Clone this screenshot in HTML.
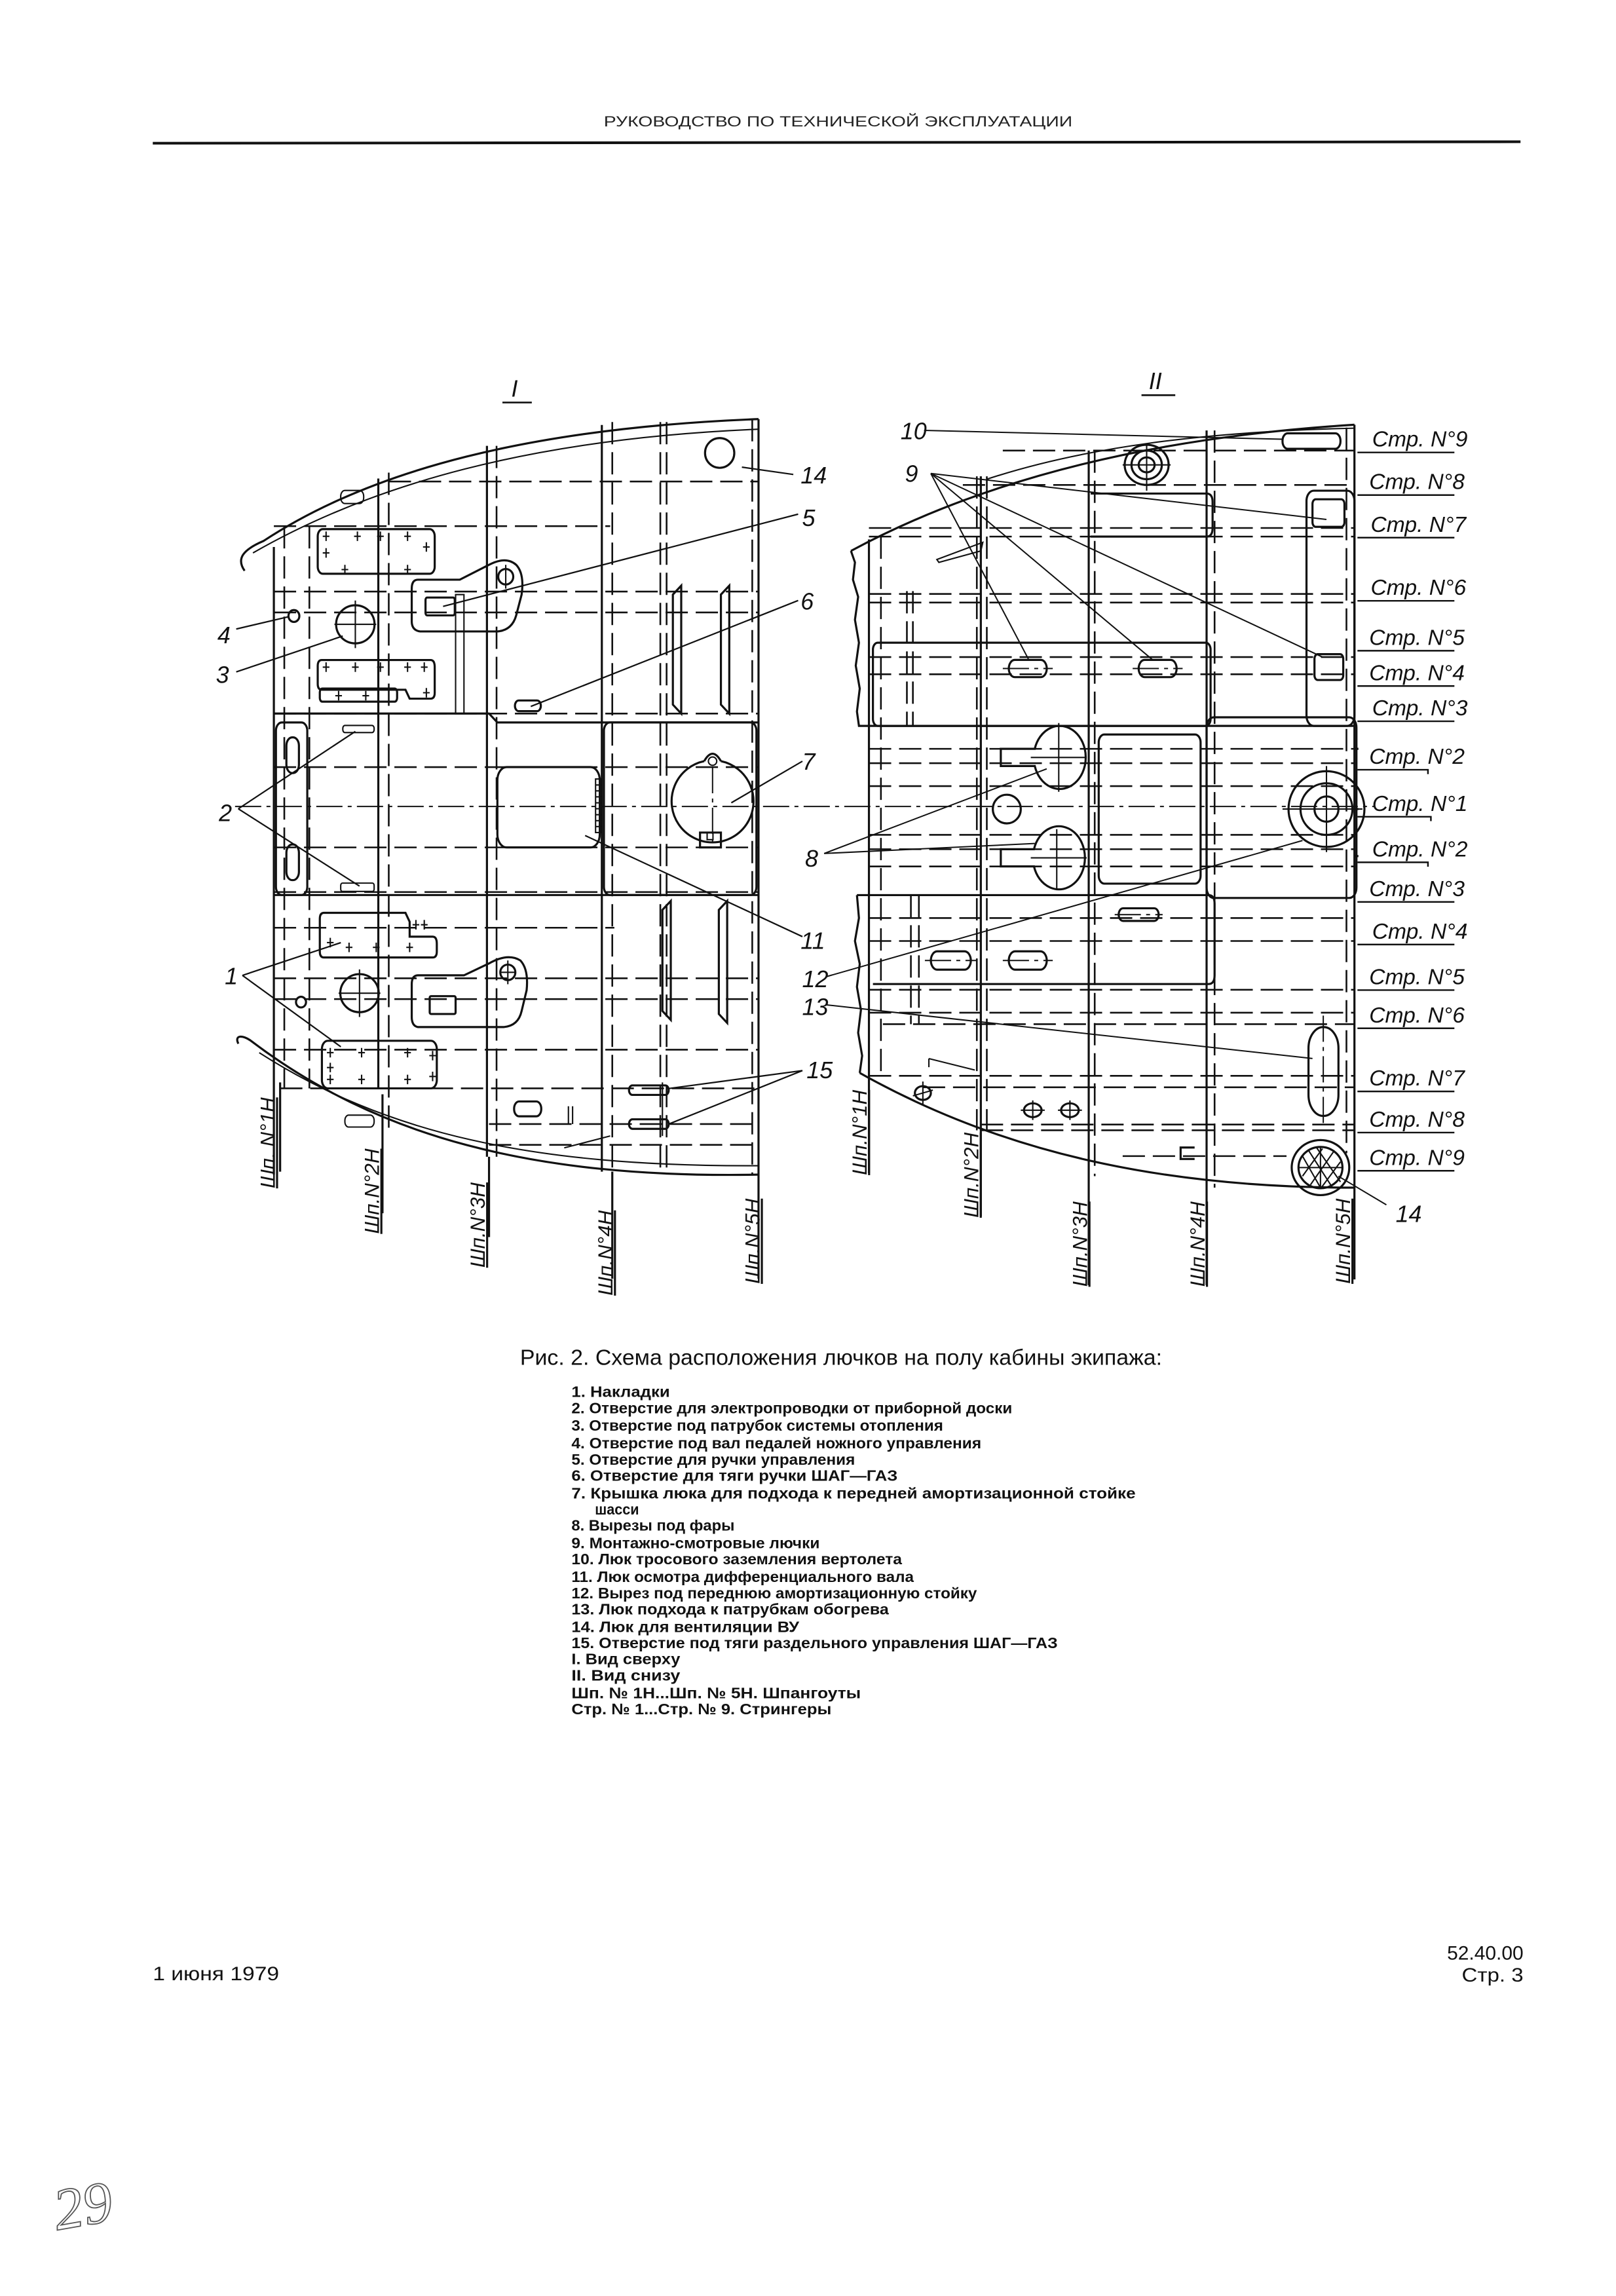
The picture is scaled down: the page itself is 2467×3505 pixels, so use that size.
<!DOCTYPE html>
<html><head><meta charset="utf-8"><style>
html,body{margin:0;padding:0;background:#fff}
svg{display:block}
.s{fill:none;stroke:#111;stroke-width:3.2;vector-effect:non-scaling-stroke}
.t{fill:none;stroke:#111;stroke-width:2.1;vector-effect:non-scaling-stroke}
.d{fill:none;stroke:#111;stroke-width:2.6;stroke-dasharray:34 12;vector-effect:non-scaling-stroke}
.dd{fill:none;stroke:#111;stroke-width:2;stroke-dasharray:40 8 6 8;vector-effect:non-scaling-stroke}
.lab{font-family:"Liberation Sans",sans-serif;font-style:italic;font-size:16px;fill:#111}
.stp{font-family:"Liberation Sans",sans-serif;font-style:italic;font-size:14px;fill:#111}
.lg{font-family:"Liberation Sans Narrow","Liberation Sans",sans-serif;font-size:10.5px;fill:#111;font-weight:bold}
</style></head><body>
<svg width="2467" height="3505" viewBox="0 0 1100 1563" preserveAspectRatio="none" xmlns="http://www.w3.org/2000/svg">
<rect width="1100" height="1563" fill="#fff"/>
<text x="411" y="86" font-family="Liberation Sans Narrow,Liberation Sans,sans-serif" font-size="10" textLength="319" lengthAdjust="spacingAndGlyphs" fill="#222">РУКОВОДСТВО ПО ТЕХНИЧЕСКОЙ ЭКСПЛУАТАЦИИ</text>
<line x1="104" y1="97.5" x2="1035" y2="96.5" stroke="#111" stroke-width="1.8"/>

<text class="lab" x="348" y="270">I</text><line x1="342" y1="274" x2="362" y2="274" stroke="#111" stroke-width="1.2"/>
<text class="lab" x="782" y="265">II</text><line x1="777" y1="269" x2="800" y2="269" stroke="#111" stroke-width="1.2"/>

<line x1="160" y1="549" x2="935" y2="549" class="dd"/>

<g transform="translate(133.8,238.7) scale(0.2844,0.405)">
<path class="s" d="M115,370 C95,350 110,335 160,320 C420,200 800,130 1345,115"/>
<path class="t" d="M135,340 C420,225 800,148 1345,132"/>
<path class="s" d="M100,1165 C90,1150 110,1150 130,1160 C430,1320 800,1392 1345,1385"/>
<path class="t" d="M150,1180 C450,1315 800,1372 1345,1370"/>
<rect class="t" x="345" y="235" width="55" height="22" rx="10"/>
<rect class="t" x="355" y="1285" width="70" height="20" rx="9"/>
<path class="s" d="M185,330V1385 M200,1230V1380 M435,215V1240 M445,1250V1450 M695,160V1355 M700,1355V1490 M970,125V1380 M995,1380V1560 M1345,115V1560"/>
<path class="d" d="M210,295V1240 M270,295V1240 M460,205V1310 M718,160V1355 M995,120V1380 M1110,120V1385 M1125,120V1385 M1330,115V1385"/>
<path class="d" d="M460,220H1345 M185,295H990 M185,405H1345 M185,440H1345 M185,610H1345 M185,700H1345 M185,835H1345 M185,910H1345 M185,970H1000 M185,1055H1345 M185,1090H1345 M185,1175H1345 M200,1240H1345 M700,1300H1345 M700,1335H1345"/>
<path class="s" d="M185,610H700 L720,625H1345 M185,915H1345"/>
<rect class="s" x="290" y="300" width="280" height="75" rx="12"/>
<path class="s" d="M300,520H560Q570,520 570,532V575Q570,585 560,585H510L500,570H300Q290,570 290,560V530Q290,520 300,520Z"/>
<rect class="s" x="295" y="568" width="185" height="22" rx="6"/>
<path class="s" d="M305,945H500L510,960V985H565Q575,985 575,997V1010Q575,1020 565,1020H305Q295,1020 295,1010V955Q295,945 305,945Z"/>
<rect class="s" x="300" y="1160" width="275" height="80" rx="14"/>
<path class="t" d="M302,312h16M310,304v16 M377,312h16M385,304v16 M432,312h16M440,304v16 M497,312h16M505,304v16 M542,330h16M550,322v16 M347,368h16M355,360v16 M497,368h16M505,360v16 M302,340h16M310,332v16
M302,532h16M310,524v16 M372,532h16M380,524v16 M432,532h16M440,524v16 M497,532h16M505,524v16 M537,532h16M545,524v16 M542,575h16M550,567v16 M332,580h16M340,572v16 M397,580h16M405,572v16
M312,995h16M320,987v16 M357,1003h16M365,995v16 M422,1003h16M430,995v16 M502,1003h16M510,995v16 M537,965h16M545,957v16 M517,965h16M525,957v16
M312,1180h16M320,1172v16 M387,1180h16M395,1172v16 M497,1180h16M505,1172v16 M557,1185h16M565,1177v16 M312,1205h16M320,1197v16 M312,1225h16M320,1217v16 M387,1225h16M395,1217v16 M497,1225h16M505,1217v16 M557,1220h16M565,1212v16"/>
<rect class="s" x="190" y="625" width="75" height="290" rx="14"/>
<rect class="s" x="215" y="650" width="30" height="60" rx="14"/>
<rect class="s" x="215" y="830" width="30" height="60" rx="14"/>
<rect class="t" x="350" y="630" width="75" height="12" rx="5"/>
<rect class="t" x="345" y="895" width="80" height="14" rx="4"/>
<ellipse class="s" cx="380" cy="460" rx="46" ry="32"/><path class="t" d="M380,420V500 M330,460H430"/>
<ellipse class="s" cx="233" cy="446" rx="13" ry="10"/>
<ellipse class="s" cx="390" cy="1080" rx="46" ry="32"/><path class="t" d="M390,1040V1120 M340,1080H440"/>
<ellipse class="s" cx="250" cy="1095" rx="12" ry="9"/>
<ellipse class="s" cx="1252" cy="172" rx="35" ry="25"/>
<path class="s" d="M530,385H630L700,360Q740,345 765,360Q785,375 778,410L765,445Q755,470 720,472H535Q515,470 515,455V400Q515,385 530,385Z"/>
<ellipse class="s" cx="740" cy="380" rx="18" ry="13"/><path class="t" d="M740,360V400"/>
<rect class="s" x="548" y="415" width="70" height="30" rx="4"/>
<rect class="t" x="620" y="410" width="20" height="200"/>
<path class="s" d="M530,1050H640L700,1030Q745,1012 775,1025Q795,1040 790,1075L778,1110Q770,1135 735,1137H530Q515,1135 515,1120V1065Q515,1050 530,1050Z"/>
<ellipse class="s" cx="745" cy="1045" rx="18" ry="13"/><path class="t" d="M745,1025V1065 M725,1045H765"/>
<rect class="s" x="558" y="1085" width="62" height="30" rx="3"/>
<rect class="s" x="762" y="588" width="62" height="18" rx="9"/>
<rect class="s" x="720" y="700" width="245" height="135" rx="22"/>
<rect class="t" x="955" y="720" width="14" height="90"/>
<path class="t" d="M955,730h14M955,740h14M955,750h14M955,760h14M955,770h14M955,780h14M955,790h14M955,800h14"/>
<rect class="s" x="975" y="625" width="365" height="290" rx="14"/>
<path class="s" d="M1215,690 A98,69 0 1,0 1255,690"/>
<path class="s" d="M1215,690 Q1235,665 1255,690"/>
<ellipse class="t" cx="1235" cy="690" rx="10" ry="7"/>
<rect class="s" x="1205" y="810" width="50" height="25"/><rect class="t" x="1222" y="810" width="14" height="12"/>
<path class="dd" d="M1235,700V830"/>
<path class="s" d="M1140,410L1160,395V610L1140,595Z M1255,410L1275,395V610L1255,595Z M1115,940L1135,925V1125L1115,1110Z M1250,940L1270,925V1130L1250,1115Z"/>
<rect class="s" x="760" y="1262" width="65" height="25" rx="12"/>
<rect class="s" x="1035" y="1235" width="95" height="16" rx="8"/>
<rect class="s" x="1035" y="1292" width="95" height="16" rx="8"/>
<path class="t" d="M1115,1230V1320 M890,1270V1300 M900,1270V1300 M880,1340L990,1320"/>
</g>

<g stroke="#111" stroke-width="1" fill="none">
<line x1="505" y1="318" x2="540" y2="323"/>
<line x1="301.6" y1="412.8" x2="543.3" y2="350"/>
<line x1="361.3" y1="480.9" x2="543.3" y2="408.8"/>
<line x1="497.8" y1="546.5" x2="546.2" y2="518.2"/>
<line x1="398.3" y1="568.8" x2="546.2" y2="637.6"/>
<line x1="160.8" y1="428.2" x2="197" y2="419.7"/>
<line x1="160.8" y1="457.4" x2="233.3" y2="433"/>
<line x1="162.2" y1="550.6" x2="241.9" y2="497.9"/>
<line x1="162.2" y1="550.6" x2="244.7" y2="603.2"/>
<line x1="165" y1="664" x2="232" y2="641.7"/>
<line x1="165" y1="664" x2="232" y2="712.6"/>
<line x1="546.2" y1="728.8" x2="455.2" y2="741"/>
<line x1="546.2" y1="728.8" x2="455.2" y2="765.2"/>
</g>
<text class="lab" x="545" y="329">14</text>
<text class="lab" x="546" y="358">5</text>
<text class="lab" x="545" y="415">6</text>
<text class="lab" x="546" y="524">7</text>
<text class="lab" x="545" y="646">11</text>
<text class="lab" x="148" y="438">4</text>
<text class="lab" x="147" y="465">3</text>
<text class="lab" x="149" y="559">2</text>
<text class="lab" x="153" y="670">1</text>
<text class="lab" x="549" y="734">15</text>
<g class="stp">
<text transform="translate(187,809) rotate(-90)" text-decoration="underline">Шп. N°1H</text>
<text transform="translate(258,840) rotate(-90)" text-decoration="underline">Шп.N°2H</text>
<text transform="translate(330,863) rotate(-90)" text-decoration="underline">Шп.N°3H</text>
<text transform="translate(417,882) rotate(-90)" text-decoration="underline">Шп.N°4H</text>
<text transform="translate(517,874) rotate(-90)" text-decoration="underline">Шп.N°5H</text>
</g>

<g transform="translate(573.8,265.7) scale(0.272,0.3905)">
<path class="s" d="M20,280 C300,175 700,85 1280,60"/>
<path class="t" d="M360,155 C600,100 900,72 1280,66"/>
<path class="s" d="M20,280 L30,300 L25,330 L38,360 L30,400 L40,440 L32,480 L42,520 L35,560 L40,585 H1280"/>
<path class="s" d="M35,880 L40,920 L30,960 L42,1000 L35,1040 L45,1080 L38,1120 L48,1160 L42,1190"/>
<path class="s" d="M42,1190 C400,1330 800,1390 1280,1390"/>
<path class="s" d="M65,260V1365 M345,150V1440 M615,105V1560 M910,70V1560 M1280,60V1550"/>
<path class="d" d="M95,255V1200 M160,350V585 M175,350V585 M335,150V1290 M360,150V1290 M630,105V1370 M930,70V1390 M1260,65V1330 M170,880V1105 M190,880V1105"/>
<path class="d" d="M400,105H1280 M300,165H1280 M65,240H1280 M65,255H1280 M65,355H1280 M65,370H1280 M65,465H1280 M65,495H1280 M65,625H1280 M65,650H1280 M65,690H1280 M65,775H1280 M65,800H1280 M65,830H1280 M65,920H1280 M65,960H1280 M65,1045H1280 M65,1085H1280 M100,1105H1280 M65,1195H1280 M200,1215H1280 M345,1280H1280 M345,1290H1280 M700,1335H1110"/>
<path class="s" d="M1280,625H1290 M1280,730H1290 M1280,812H1290"/>
<rect class="s" x="75" y="440" width="845" height="145" rx="12"/>
<path class="s" d="M620,180H910Q925,180 925,195V240Q925,255 910,255H620"/>
<rect class="s" x="1160" y="175" width="120" height="410" rx="18"/>
<rect class="s" x="910" y="570" width="375" height="315" rx="18"/>
<rect class="s" x="640" y="600" width="255" height="260" rx="14"/>
<path class="s" d="M35,880H915Q930,880 930,895V1020Q930,1035 915,1035H75"/>
<rect class="s" x="1100" y="75" width="145" height="27" rx="13"/>
<rect class="s" x="1175" y="190" width="80" height="48" rx="8"/>
<rect class="s" x="1180" y="460" width="72" height="45" rx="8"/>
<ellipse class="s" cx="760" cy="130" rx="55" ry="35"/><ellipse class="s" cx="760" cy="130" rx="38" ry="25"/><ellipse class="s" cx="760" cy="130" rx="20" ry="13"/>
<path class="t" d="M760,95V175 M700,130H820"/>
<rect class="s" x="415" y="470" width="95" height="30" rx="15"/>
<rect class="s" x="740" y="470" width="95" height="30" rx="15"/>
<rect class="s" x="690" y="903" width="100" height="22" rx="11"/>
<rect class="s" x="220" y="978" width="100" height="32" rx="16"/>
<rect class="s" x="415" y="978" width="95" height="32" rx="16"/>
<path class="dd" d="M400,485H525 M725,485H850 M680,914H800 M205,994H335 M400,994H525"/>
<path class="s" d="M480,625 A65,55 0 1,1 480,655 H395 V625 Z"/>
<path class="s" d="M478,800 A65,55 0 1,1 478,830 H395 V800 Z"/>
<path class="t" d="M540,580V700 M535,765V870 M470,640H610 M470,815H610"/>
<ellipse class="s" cx="410" cy="730" rx="35" ry="25"/>
<ellipse class="s" cx="1210" cy="730" rx="95" ry="66"/><ellipse class="s" cx="1210" cy="730" rx="65" ry="45"/><ellipse class="s" cx="1210" cy="730" rx="30" ry="22"/>
<path class="t" d="M1210,655V805 M1100,730H1300"/>
<rect class="s" x="1165" y="1110" width="75" height="155" rx="37"/>
<path class="dd" d="M1202,1090V1280"/>
<ellipse class="s" cx="1195" cy="1355" rx="72" ry="48" stroke-width="4"/>
<ellipse class="s" cx="1195" cy="1355" rx="55" ry="36"/>
<path class="t" d="M1150,1335L1195,1390 M1165,1325L1225,1390 M1185,1320L1245,1380 M1150,1370L1200,1322 M1170,1385L1230,1325 M1195,1392L1245,1345 M1140,1355H1250 M1195,1320V1392"/>
<path class="t" d="M235,295L350,265 L345,280 L240,300Z M215,1165L330,1185 M215,1165V1180"/>
<ellipse class="s" cx="200" cy="1225" rx="20" ry="12"/><path class="t" d="M200,1205V1245 M175,1230L225,1220"/>
<ellipse class="s" cx="475" cy="1255" rx="22" ry="12"/><path class="t" d="M475,1238V1272 M445,1255H505"/>
<ellipse class="s" cx="568" cy="1255" rx="22" ry="12"/><path class="t" d="M568,1238V1272 M538,1255H598"/>
<path class="s" d="M880,1320H845V1340H880"/>
</g>

<g class="stp">
<text x="934" y="304" font-size="15">Стр. N°9</text>
<text x="932" y="333" font-size="15">Стр. N°8</text>
<text x="933" y="362" font-size="15">Стр. N°7</text>
<text x="933" y="405" font-size="15">Стр. N°6</text>
<text x="932" y="439" font-size="15">Стр. N°5</text>
<text x="932" y="463" font-size="15">Стр. N°4</text>
<text x="934" y="487" font-size="15">Стр. N°3</text>
<text x="932" y="520" font-size="15">Стр. N°2</text>
<text x="934" y="552" font-size="15">Стр. N°1</text>
<text x="934" y="583" font-size="15">Стр. N°2</text>
<text x="932" y="610" font-size="15">Стр. N°3</text>
<text x="934" y="639" font-size="15">Стр. N°4</text>
<text x="932" y="670" font-size="15">Стр. N°5</text>
<text x="932" y="696" font-size="15">Стр. N°6</text>
<text x="932" y="739" font-size="15">Стр. N°7</text>
<text x="932" y="767" font-size="15">Стр. N°8</text>
<text x="932" y="793" font-size="15">Стр. N°9</text>
</g>
<path stroke="#111" stroke-width="1.1" fill="none" d="M924,308H990 M924,337H990 M924,366H990 M924,409H990 M924,443H990 M924,467H990 M924,491H990 M924,524H972V527 M924,556H974V559 M924,587H972V590 M924,614H990 M924,643H990 M924,674H990 M924,700H990 M924,743H990 M924,771H990 M924,797H990"/>

<g stroke="#111" stroke-width="0.9" fill="none">
<line x1="629" y1="293" x2="873" y2="299"/>
<line x1="633.6" y1="322.3" x2="700.3" y2="449.2"/>
<line x1="633.6" y1="322.3" x2="784.6" y2="449.2"/>
<line x1="633.6" y1="322.3" x2="902.9" y2="353.6"/>
<line x1="633.6" y1="322.3" x2="900.2" y2="447.3"/>
<line x1="561" y1="581" x2="712.5" y2="523.4"/>
<line x1="561" y1="581" x2="704.4" y2="574.2"/>
<line x1="562" y1="665" x2="886.6" y2="572.2"/>
<line x1="562" y1="684" x2="893.4" y2="720.6"/>
<line x1="911" y1="800.7" x2="943.7" y2="820.2"/>
</g>
<text class="lab" x="613" y="299">10</text>
<text class="lab" x="616" y="328">9</text>
<text class="lab" x="548" y="590">8</text>
<text class="lab" x="546" y="672">12</text>
<text class="lab" x="546" y="691">13</text>
<text class="lab" x="950" y="832">14</text>
<g class="stp">
<text transform="translate(590,800) rotate(-90)" text-decoration="underline">Шп.N°1H</text>
<text transform="translate(666,829) rotate(-90)" text-decoration="underline">Шп.N°2H</text>
<text transform="translate(740,876) rotate(-90)" text-decoration="underline">Шп.N°3H</text>
<text transform="translate(820,876) rotate(-90)" text-decoration="underline">Шп.N°4H</text>
<text transform="translate(919,874) rotate(-90)" text-decoration="underline">Шп.N°5H</text>
</g>

<text x="354" y="929" font-family="Liberation Sans Narrow,Liberation Sans,sans-serif" font-size="15" textLength="437" lengthAdjust="spacingAndGlyphs" fill="#111">Рис. 2. Схема расположения лючков на полу кабины экипажа:</text>
<g class="lg">
<text x="389" y="951" textLength="67" lengthAdjust="spacingAndGlyphs">1. Накладки</text>
<text x="389" y="962" textLength="300" lengthAdjust="spacingAndGlyphs">2. Отверстие для электропроводки от приборной доски</text>
<text x="389" y="974" textLength="253" lengthAdjust="spacingAndGlyphs">3. Отверстие под патрубок системы отопления</text>
<text x="389" y="986" textLength="279" lengthAdjust="spacingAndGlyphs">4. Отверстие под вал педалей ножного управления</text>
<text x="389" y="997" textLength="193" lengthAdjust="spacingAndGlyphs">5. Отверстие для ручки управления</text>
<text x="389" y="1008" textLength="222" lengthAdjust="spacingAndGlyphs">6. Отверстие для тяги ручки ШАГ—ГАЗ</text>
<text x="389" y="1020" textLength="384" lengthAdjust="spacingAndGlyphs">7. Крышка люка для подхода к передней амортизационной стойке</text>
<text x="405" y="1031" textLength="30" lengthAdjust="spacingAndGlyphs">шасси</text>
<text x="389" y="1042" textLength="111" lengthAdjust="spacingAndGlyphs">8. Вырезы под фары</text>
<text x="389" y="1054" textLength="169" lengthAdjust="spacingAndGlyphs">9. Монтажно-смотровые лючки</text>
<text x="389" y="1065" textLength="225" lengthAdjust="spacingAndGlyphs">10. Люк тросового заземления вертолета</text>
<text x="389" y="1077" textLength="233" lengthAdjust="spacingAndGlyphs">11. Люк осмотра дифференциального вала</text>
<text x="389" y="1088" textLength="276" lengthAdjust="spacingAndGlyphs">12. Вырез под переднюю амортизационную стойку</text>
<text x="389" y="1099" textLength="216" lengthAdjust="spacingAndGlyphs">13. Люк подхода к патрубкам обогрева</text>
<text x="389" y="1111" textLength="155" lengthAdjust="spacingAndGlyphs">14. Люк для вентиляции ВУ</text>
<text x="389" y="1122" textLength="331" lengthAdjust="spacingAndGlyphs">15. Отверстие под тяги раздельного управления ШАГ—ГАЗ</text>
<text x="389" y="1133" textLength="74" lengthAdjust="spacingAndGlyphs">I. Вид сверху</text>
<text x="389" y="1144" textLength="74" lengthAdjust="spacingAndGlyphs">II. Вид снизу</text>
<text x="389" y="1156" textLength="197" lengthAdjust="spacingAndGlyphs">Шп. № 1Н...Шп. № 5Н. Шпангоуты</text>
<text x="389" y="1167" textLength="177" lengthAdjust="spacingAndGlyphs">Стр. № 1...Стр. № 9. Стрингеры</text>
</g>

<text x="104" y="1348" font-family="Liberation Sans,sans-serif" font-size="13" textLength="86" lengthAdjust="spacingAndGlyphs" fill="#111">1 июня 1979</text>
<text x="985" y="1334" font-family="Liberation Sans,sans-serif" font-size="13" textLength="52" lengthAdjust="spacingAndGlyphs" fill="#111">52.40.00</text>
<text x="995" y="1349" font-family="Liberation Sans,sans-serif" font-size="13" textLength="42" lengthAdjust="spacingAndGlyphs" fill="#111">Стр. 3</text>
<text x="36" y="1516" font-family="Liberation Serif,serif" font-style="italic" font-size="40" fill="none" stroke="#555" stroke-width="0.8" transform="rotate(-10 50 1500)">29</text>
</svg>
</body></html>
